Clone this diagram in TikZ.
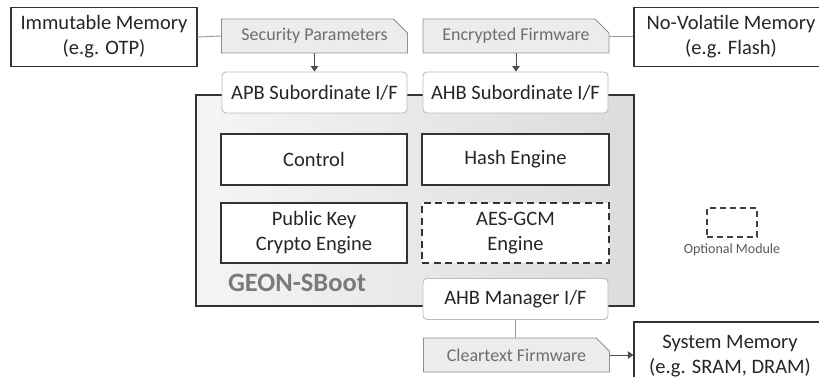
\documentclass[tikz,border=0pt]{standalone}
\usepackage{fontspec}
\setmainfont{Carlito}
\usetikzlibrary{arrows.meta,shapes.misc}
\definecolor{tabfill}{HTML}{ECECEC}
\definecolor{tabline}{HTML}{8F8F8F}
\definecolor{tabtext}{HTML}{6E6E6E}
\definecolor{ifline}{HTML}{BDBDBD}
\definecolor{darkline}{HTML}{333333}
\definecolor{connline}{HTML}{999999}
\begin{document}
\begin{tikzpicture}[x=1pt,y=-1pt,
  membox/.style={draw=darkline, line width=1.3pt, fill=white, align=center,
    inner sep=0pt, font=\fontsize{20.5}{25}\selectfont, text=black!85},
  tabbox/.style={chamfered rectangle, chamfered rectangle corners=north east,
    chamfered rectangle xsep=7pt, chamfered rectangle ysep=7pt,
    draw=tabline, line width=0.9pt, fill=tabfill, inner sep=0pt,
    minimum width=186pt, minimum height=34pt,
    font=\fontsize{18}{22}\selectfont, text=tabtext},
  ifbox/.style={draw=ifline, line width=0.9pt, fill=white, rounded corners=4pt,
    inner sep=0pt, minimum width=185pt, minimum height=41pt,
    font=\fontsize{20.5}{25}\selectfont, text=black!85},
  blockbox/.style={draw=darkline, line width=1.4pt, fill=white, align=center,
    inner sep=0pt, minimum width=186pt,
    font=\fontsize{20.5}{25}\selectfont, text=black!85},
  conn/.style={draw=connline, line width=0.9pt},
  arrowconn/.style={draw=black!70, line width=0.9pt, -{Triangle[width=7.5pt,length=5.5pt]}}
]
\useasboundingbox (0,0) rectangle (819,377);
\clip (0,0) rectangle (819,377);
\fill[white] (0,0) rectangle (819,377);

% main block
\node[draw=darkline, line width=1.8pt, left color=black!4, right color=black!14,
      inner sep=0pt, minimum width=438pt, minimum height=211pt] (geon) at (415,200.5) {};
\node[font=\fontsize{26.5}{30}\selectfont\bfseries, text=black!52] (geonlbl) at (297,283) {GEON-SBoot};

% memories
\node[membox, minimum width=186pt, minimum height=59pt] (imm) at (104,37)
  {Immutable Memory\\(e.g. OTP)};
\node[membox, minimum width=194pt, minimum height=59pt] (nov) at (731,37)
  {No-Volatile Memory\\(e.g. Flash)};
\node[membox, minimum width=192pt, minimum height=68pt] (sys) at (730,356)
  {System Memory\\(e.g. SRAM, DRAM)};

% tabs
\node[tabbox] (sec) at (314.5,36) {Security Parameters};
\node[tabbox] (enc) at (516,36) {Encrypted Firmware};
\node[tabbox] (clr) at (516.5,355) {Cleartext Firmware};

% interfaces
\node[ifbox] (apb) at (314.5,92.5) {APB Subordinate I/F};
\node[ifbox] (ahbs) at (515.5,92.5) {AHB Subordinate I/F};
\node[ifbox] (ahbm) at (515.5,299) {AHB Manager I/F};

% inner blocks
\node[blockbox, minimum height=51pt] (ctrl) at (314,159.5) {Control};
\node[blockbox, minimum height=51pt, minimum width=187pt] (hash) at (515.5,159.5) {Hash Engine};
\node[blockbox, minimum height=60pt] (pk) at (314,233) {Public Key\\Crypto Engine};
\node[blockbox, minimum height=60pt, minimum width=187pt, dash pattern=on 7pt off 4.5pt] (aes) at (515.5,233) {AES-GCM\\Engine};

% legend
\node[draw=black!75, line width=1.2pt, dash pattern=on 6pt off 4pt, inner sep=0pt,
      minimum width=50pt, minimum height=29pt] (legbox) at (732,222.5) {};
\node[font=\fontsize{14}{16}\selectfont, text=black!65] (legtxt) at (732,250) {Optional Module};

% connectors
\draw[conn] (imm.east) -- (sec.west);
\draw[conn] (enc.east) -- (enc.east -| nov.west);
\draw[arrowconn] (sec.south) -- (apb.north);
\draw[arrowconn] (enc.south) -- (enc.south |- ahbs.north);
\draw[conn] (ahbm.south) -- (ahbm.south |- clr.north);
\draw[arrowconn] (clr.east) -- (clr.east -| sys.west);
\end{tikzpicture}
\end{document}
